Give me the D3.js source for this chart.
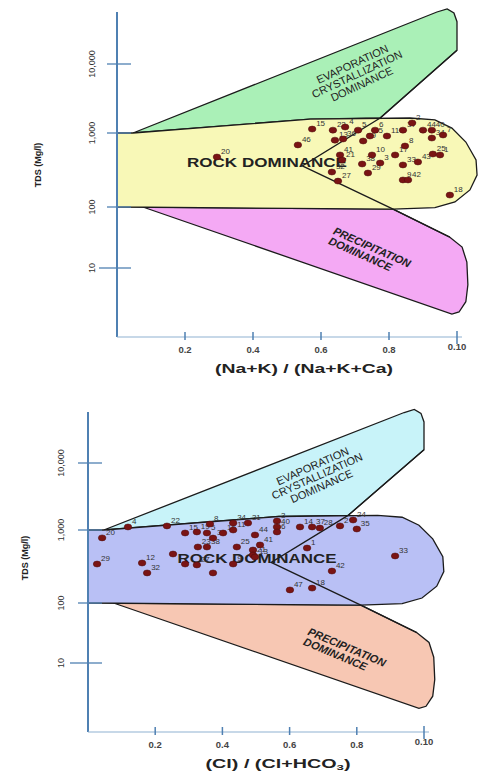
<!DOCTYPE html>
<html>
<head>
<meta charset="utf-8">
<script src="https://cdn.jsdelivr.net/npm/d3@7"></script>
<style>
  body { margin: 0; background: #fff; }
  svg { display: block; font-family: "Liberation Sans", Arial, sans-serif; }
</style>
</head>
<body>
<svg width="480" height="774"></svg>
<script>
// axis ticks
var xTickValues = [0.2, 0.4, 0.6, 0.8, 1.0];
var xTickLabels = ["0.2", "0.4", "0.6", "0.8", "0.10"];
var yTickValues = [10, 100, 1000, 10000];
var yTickLabels = ["10", "100", "1,000", "10,000"];

// gibbs boundaries (ratio, TDS)
var evapRatio = [0.047, 0.941, 0.971, 0.991, 1.0, 1.0, 0.774, 0.568];
var evapTds   = [1000, 56700, 63000, 55000, 41000, 15800, 1650, 1590];
var rockRatio = [0, 0.047, 0.568, 0.862, 0.935, 0.985, 1.026, 1.056, 1.059, 1.038, 0.994, 0.935, 0.812, 0];
var rockTds   = [1000, 1000, 1590, 1650, 1550, 1180, 755, 431, 270, 170, 117, 98, 92, 100];
var precRatio = [0.076, 0.812, 0.979, 1.015, 1.029, 1.032, 1.026, 1.006, 0.985];
var precTds   = [100, 92, 32, 22, 12.5, 5.3, 2.8, 1.9, 1.76];
var splitRatio = [1.0, 0.774, 0.545, 0.812, 0.979];
var splitTds   = [15800, 1650, 360, 92, 32];

// samples, (Na+K)/(Na+K+Ca)
var topLabels = ["20","46","15","22","4","5","6","37","2","44","40","7","13","36","35","39","8","34","41","21","10","17","25","1","38","3","33","43","32","27","29","9","42","18","11"];
var topRatio  = [0.294,0.532,0.574,0.635,0.671,0.709,0.759,0.841,0.868,0.900,0.926,0.959,0.641,0.665,0.744,0.724,0.847,0.926,0.656,0.662,0.750,0.818,0.929,0.950,0.721,0.774,0.841,0.885,0.632,0.650,0.738,0.841,0.856,0.979,0.794];
var topTds    = [474,690,1140,1100,1220,1100,1100,1100,1400,1100,1100,940,800,830,910,780,667,855,505,431,505,505,520,505,381,393,370,406,297,224,288,232,232,145,910];

// samples, Cl/(Cl+HCO3)  ("" = number not readable)
var botLabels = ["20","4","22","8","34","31","3","37","2","24","35","28","40","14","19","15","5","16","11","44","6","36","23","38","25","7","41","21","1","33","29","12","32","","","27","","9","13","42","47","18"];
var botRatio  = [0.042,0.119,0.235,0.363,0.432,0.476,0.5625,0.667,0.750,0.789,0.800,0.690,0.5625,0.631,0.324,0.289,0.354,0.402,0.432,0.497,0.5625,0.372,0.327,0.354,0.443,0.491,0.512,0.491,0.652,0.914,0.027,0.161,0.176,0.253,0.289,0.324,0.372,0.432,0.497,0.726,0.601,0.667];
var botTds    = [780,1110,1150,1230,1270,1270,1360,1110,1150,1410,1035,1070,1110,1110,940,910,910,910,1000,855,940,776,585,585,585,532,624,455,566,441,342,353,258,469,342,332,258,342,427,274,151,160];

var panels = [
    {
        x0: 117, x1: 457, yPix: [268, 207, 133, 64], axisTop: 12, axisY: 337, xAxisEnd: 462,
        yLabelX: 92, yTitleX: 38, yTitleY: 165,
        fills: ["#aaf0b7", "#f8f8b7", "#f4a9f4"],
        labels: topLabels, ratio: topRatio, tds: topTds,
        xTitle: "(Na+K) / (Na+K+Ca)", xTitleX: 304, xTitleW: 178,
        evap: [357, 74, -25], rock: [267, 167, 160], prec: [366, 251, 24]
    },
    {
        x0: 88, x1: 424, yPix: [663, 603, 530, 463], axisTop: 412, axisY: 732, xAxisEnd: 429,
        yLabelX: 61, yTitleX: 25, yTitleY: 558,
        fills: ["#c8f3f9", "#b9c0f5", "#f7c7b3"],
        labels: botLabels, ratio: botRatio, tds: botTds,
        xTitle: "(Cl) / (Cl+HCO", xTitleX: 278, xTitleW: 145,
        evap: [317, 476, -24], rock: [257, 563, 159], prec: [341, 651, 23]
    }
];

var svg = d3.select("svg");
var axisColor = "#4f80b2";

panels.forEach(function(p) {
    var x = d3.scaleLinear().domain([0, 1]).range([p.x0, p.x1]);
    // hand drawn decades are not even, so piecewise log
    var y = d3.scaleLog().domain(yTickValues).range(p.yPix);

    var g = svg.append("g");
    var line = d3.line()
        .x(function(d) { return x(d[0]); })
        .y(function(d) { return y(d[1]); });

    function poly(rs, ts) {
        return rs.map(function(r, i) { return [r, ts[i]]; });
    }

    // regions
    g.append("path").attr("d", line.curve(d3.curveLinearClosed)(poly(evapRatio, evapTds)))
        .attr("fill", p.fills[0]).attr("stroke", "#1b1b1b").attr("stroke-width", 1.3);
    g.append("path").attr("d", line.curve(d3.curveLinearClosed)(poly(precRatio, precTds)))
        .attr("fill", p.fills[2]).attr("stroke", "#1b1b1b").attr("stroke-width", 1.3);
    g.append("path").attr("d", line.curve(d3.curveLinearClosed)(poly(rockRatio, rockTds)))
        .attr("fill", p.fills[1]).attr("stroke", "#1b1b1b").attr("stroke-width", 1.3);
    g.append("path").attr("d", line.curve(d3.curveLinear)(poly(splitRatio, splitTds)))
        .attr("fill", "none").attr("stroke", "#1b1b1b").attr("stroke-width", 1.3);

    // region names
    var ev = g.append("text")
        .attr("transform", "translate(" + p.evap[0] + "," + p.evap[1] + ") rotate(" + p.evap[2] + ")")
        .attr("text-anchor", "middle").attr("font-size", 11).attr("fill", "#222");
    ["EVAPORATION", "CRYSTALLIZATION", "DOMINANCE"].forEach(function(t, i) {
        ev.append("tspan").attr("x", 0).attr("y", (i - 1) * 11 + 4).text(t);
    });

    g.append("text")
        .attr("x", p.rock[0] - p.rock[2] / 2).attr("y", p.rock[1])
        .attr("textLength", p.rock[2]).attr("lengthAdjust", "spacingAndGlyphs")
        .attr("font-size", 12).attr("font-weight", "bold").attr("fill", "#222")
        .text("ROCK DOMINANCE");

    var pr = g.append("text")
        .attr("transform", "translate(" + p.prec[0] + "," + p.prec[1] + ") rotate(" + p.prec[2] + ")")
        .attr("text-anchor", "middle").attr("font-size", 11).attr("font-style", "italic")
        .attr("font-weight", "bold").attr("fill", "#222");
    pr.append("tspan").attr("x", 4).attr("y", -2).text("PRECIPITATION");
    pr.append("tspan").attr("x", -4).attr("y", 9).text("DOMINANCE");

    // axes
    g.append("line").attr("x1", p.x0).attr("x2", p.x0).attr("y1", p.axisTop).attr("y2", p.axisY)
        .attr("stroke", axisColor).attr("stroke-width", 2);
    g.append("line").attr("x1", p.x0).attr("x2", p.xAxisEnd).attr("y1", p.axisY).attr("y2", p.axisY)
        .attr("stroke", "#8fb1d2").attr("stroke-width", 1.2);

    g.selectAll(".ytick").data(yTickValues).enter().append("line")
        .attr("x1", function(d) { return d == 10 ? p.x0 - 18 : p.x0 - 10; })
        .attr("x2", p.x0 + 14)
        .attr("y1", function(d) { return y(d); })
        .attr("y2", function(d) { return y(d); })
        .attr("stroke", axisColor).attr("stroke-width", 1.3);

    g.selectAll(".ylab").data(yTickValues).enter().append("text")
        .attr("transform", function(d) { return "translate(" + p.yLabelX + "," + y(d) + ") rotate(-90)"; })
        .attr("text-anchor", "middle").attr("dy", "0.35em")
        .attr("font-size", 9).attr("fill", "#333")
        .text(function(d, i) { return yTickLabels[i]; });

    g.append("text")
        .attr("transform", "translate(" + p.yTitleX + "," + p.yTitleY + ") rotate(-90)")
        .attr("text-anchor", "middle").attr("dy", "0.35em")
        .attr("font-size", 9).attr("font-weight", "bold").attr("fill", "#222")
        .text("TDS (Mg/l)");

    g.selectAll(".xtick").data(xTickValues).enter().append("line")
        .attr("x1", function(d) { return x(d); })
        .attr("x2", function(d) { return x(d); })
        .attr("y1", function(d) { return d == 1 ? p.axisY - 6 : p.axisY - 5; })
        .attr("y2", function(d) { return d == 1 ? p.axisY + 7 : p.axisY + 3; })
        .attr("stroke", axisColor).attr("stroke-width", 1.5);

    g.selectAll(".xlab").data(xTickValues).enter().append("text")
        .attr("x", function(d) { return x(d); })
        .attr("y", function(d) { return d == 1 ? p.axisY + 13 : p.axisY + 16; })
        .attr("text-anchor", "middle").attr("font-size", 9.5).attr("font-weight", "bold").attr("fill", "#444")
        .text(function(d, i) { return xTickLabels[i]; });

    // wide bold title, stretch the glyphs to the drawn width
    var xt = g.append("text")
        .attr("x", p.xTitleX - p.xTitleW / 2).attr("y", p.axisY + 36)
        .attr("textLength", p.xTitleW).attr("lengthAdjust", "spacingAndGlyphs")
        .attr("font-size", 12).attr("font-weight", "bold").attr("fill", "#222");
    if (p.xTitle.indexOf("HCO") > -1) {
        xt.append("tspan").text(p.xTitle);
        xt.append("tspan").attr("font-size", 8).attr("dy", 2).text("3");
        xt.append("tspan").attr("dy", -2).text(")");
    } else {
        xt.text(p.xTitle);
    }

    // samples
    var pts = p.labels.map(function(l, i) { return {label: l, r: p.ratio[i], t: p.tds[i]}; });

    g.selectAll(".plab").data(pts.filter(function(d) { return d.label != ""; })).enter().append("text")
        .attr("x", function(d) { return x(d.r) + 4; })
        .attr("y", function(d) { return y(d.t) - 3; })
        .attr("font-size", 8).attr("fill", "#333")
        .text(function(d) { return d.label; });

    g.selectAll(".dot").data(pts).enter().append("ellipse")
        .attr("cx", function(d) { return x(d.r); })
        .attr("cy", function(d) { return y(d.t); })
        .attr("rx", 3.8).attr("ry", 3)
        .attr("fill", "#7a1414").attr("stroke", "#4a0a0a").attr("stroke-width", 0.5);
});
</script>
</body>
</html>
